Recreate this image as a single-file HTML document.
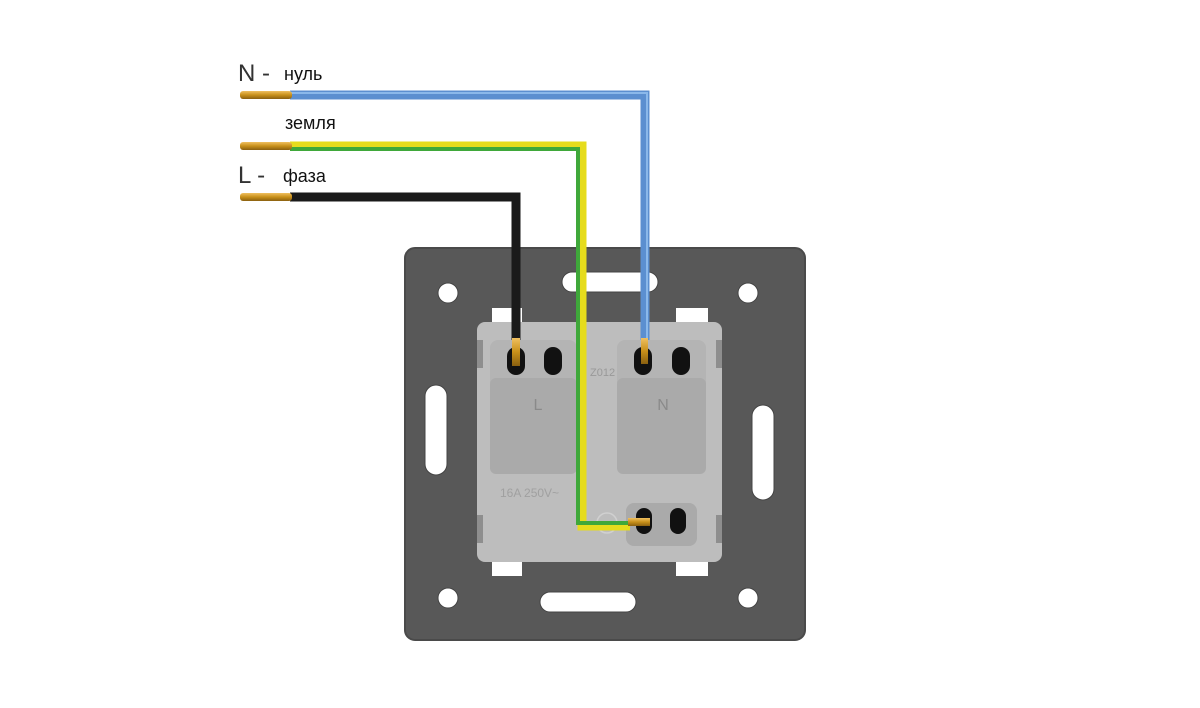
<!DOCTYPE html>
<html><head><meta charset="utf-8"><style>
html,body{margin:0;padding:0;background:#fff;}
svg{display:block}
text{font-family:"Liberation Sans","DejaVu Sans",sans-serif}
</style></head><body>
<svg width="1200" height="708" viewBox="0 0 1200 708" xmlns="http://www.w3.org/2000/svg">
<defs>
<linearGradient id="cu" x1="0" y1="0" x2="0" y2="1">
<stop offset="0" stop-color="#f0c060"/><stop offset="0.5" stop-color="#c8901a"/><stop offset="1" stop-color="#8a6010"/></linearGradient>
</defs>
<!-- plate -->
<rect x="405" y="248" width="400" height="392" rx="10" fill="#585858"/>
<rect x="405" y="248" width="400" height="392" rx="10" fill="none" stroke="#4a4a4a" stroke-width="2"/>
<!-- holes -->
<g fill="#fff" stroke="#444" stroke-width="1">
<circle cx="448" cy="293" r="10"/><circle cx="748" cy="293" r="10"/>
<circle cx="448" cy="598" r="10"/><circle cx="748" cy="598" r="10"/>
<rect x="562" y="272" width="96" height="20" rx="10"/>
<rect x="540" y="592" width="96" height="20" rx="10"/>
<rect x="425" y="385" width="22" height="90" rx="11"/>
<rect x="752" y="405" width="22" height="95" rx="11"/>
</g>
<!-- notches -->
<g fill="#fff">
<rect x="492" y="308" width="30" height="14"/><rect x="676" y="308" width="32" height="14"/>
<rect x="492" y="562" width="30" height="14"/><rect x="676" y="562" width="32" height="14"/>
</g>
<!-- module -->
<rect x="477" y="322" width="245" height="240" rx="8" fill="#bdbdbd"/>
<rect x="477" y="340" width="6" height="28" fill="#8e8e8e"/><rect x="716" y="340" width="6" height="28" fill="#8e8e8e"/>
<rect x="477" y="515" width="6" height="28" fill="#8e8e8e"/><rect x="716" y="515" width="6" height="28" fill="#8e8e8e"/>
<!-- L block -->
<rect x="490" y="340" width="87" height="58" rx="8" fill="#b4b4b4"/>
<rect x="490" y="378" width="87" height="96" rx="6" fill="#aaaaaa"/>
<rect x="507" y="347" width="18" height="28" rx="9" fill="#111"/>
<rect x="544" y="347" width="18" height="28" rx="9" fill="#111"/>
<text x="538" y="410" font-size="16" fill="#8a8a8a" text-anchor="middle">L</text>
<!-- N block -->
<rect x="617" y="340" width="89" height="58" rx="8" fill="#b4b4b4"/>
<rect x="617" y="378" width="89" height="96" rx="6" fill="#aaaaaa"/>
<rect x="634" y="347" width="18" height="28" rx="9" fill="#111"/>
<rect x="672" y="347" width="18" height="28" rx="9" fill="#111"/>
<text x="663" y="410" font-size="16" fill="#8a8a8a" text-anchor="middle">N</text>
<text x="590" y="376" font-size="11" fill="#999">Z012</text>
<text x="500" y="497" font-size="12" fill="#a0a0a0">16A 250V~</text>
<!-- ground terminal -->
<rect x="626" y="503" width="71" height="43" rx="8" fill="#aaaaaa"/>
<rect x="636" y="508" width="16" height="26" rx="8" fill="#111"/>
<rect x="670" y="508" width="16" height="26" rx="8" fill="#111"/>
<circle cx="607" cy="523" r="10" fill="none" stroke="#d0d0d0" stroke-width="1.5"/>
<!-- wires -->
<!-- blue -->
<path d="M290 95 H645 V340" fill="none" stroke="#5b8fd0" stroke-width="9"/>
<path d="M290 93 H647 V340" fill="none" stroke="#8ab8ea" stroke-width="2"/>
<rect x="641" y="338" width="7" height="26" fill="url(#cu)"/>
<!-- green/yellow -->
<path d="M290 146 H582 V526 H630" fill="none" stroke="#e6dc1c" stroke-width="9"/>
<path d="M290 149 H578 V523 H630" fill="none" stroke="#3fa83a" stroke-width="4"/>
<rect x="628" y="518" width="22" height="8" fill="url(#cu)"/>
<!-- black -->
<path d="M290 197 H516 V340" fill="none" stroke="#1a1a1a" stroke-width="9"/>
<rect x="512" y="338" width="8" height="28" fill="url(#cu)"/>
<!-- copper ends -->
<rect x="240" y="91" width="52" height="8" rx="3" fill="url(#cu)"/>
<rect x="240" y="142" width="52" height="8" rx="3" fill="url(#cu)"/>
<rect x="240" y="193" width="52" height="8" rx="3" fill="url(#cu)"/>
<!-- labels -->
<text x="238" y="81" font-size="24" fill="#333" font-weight="300">N -</text>
<text x="284" y="80" font-size="18" fill="#111">нуль</text>
<text x="285" y="129" font-size="18" fill="#111">земля</text>
<text x="238" y="183" font-size="24" fill="#333" font-weight="300">L -</text>
<text x="283" y="182" font-size="18" fill="#111">фаза</text>
</svg>
</body></html>
